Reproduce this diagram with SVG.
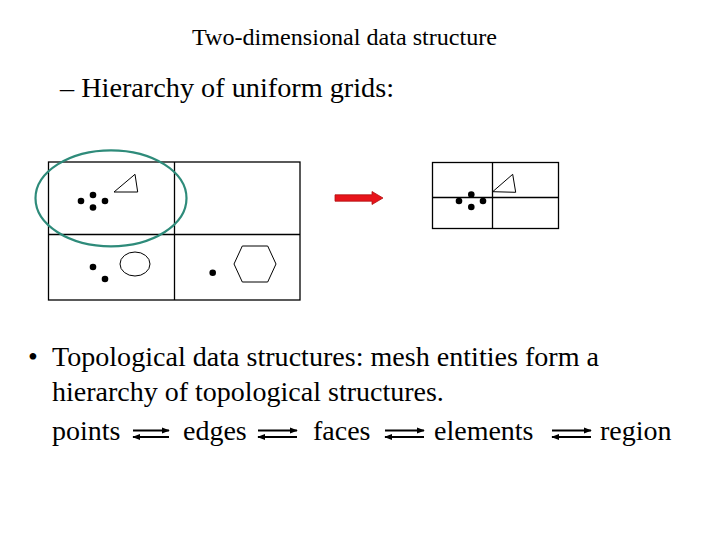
<svg xmlns="http://www.w3.org/2000/svg" width="720" height="540" viewBox="0 0 720 540">
<defs>
<style>
text{font-family:"Liberation Serif","Times New Roman",serif;fill:#000}
.t{font-size:24px}
.b{font-size:28px}
.grid{fill:none;stroke:#000;stroke-width:1.3}
.shape{fill:none;stroke:#000;stroke-width:1}
.dot{fill:#000}
.dbl{stroke:#000;stroke-width:2;fill:none}
</style>
<marker id="ah" viewBox="0 0 10 10" refX="9" refY="5" markerWidth="4" markerHeight="4" orient="auto-start-reverse" markerUnits="strokeWidth">
<path d="M0,1 L10,5 L0,9 z" fill="#000"/>
</marker>
</defs>
<rect width="720" height="540" fill="#fff"/>
<text class="t" x="192" y="45" textLength="305" lengthAdjust="spacingAndGlyphs">Two-dimensional data structure</text>
<text class="b" x="60" y="97" textLength="334" lengthAdjust="spacingAndGlyphs">– Hierarchy of uniform grids:</text>

<g id="grid1">
<rect class="grid" x="48.5" y="162" width="251.5" height="138"/>
<line class="grid" x1="174.5" y1="162" x2="174.5" y2="300"/>
<line class="grid" x1="48.5" y1="234.5" x2="300" y2="234.5"/>
<circle class="dot" cx="81" cy="201" r="3.3"/>
<circle class="dot" cx="93" cy="195" r="3.3"/>
<circle class="dot" cx="93" cy="207.5" r="3.3"/>
<circle class="dot" cx="105" cy="201" r="3.3"/>
<polygon class="shape" points="135,174.3 114,192 137.7,192"/>
<circle class="dot" cx="93" cy="267" r="3.3"/>
<circle class="dot" cx="105" cy="279" r="3.3"/>
<ellipse class="shape" cx="135" cy="264" rx="15" ry="12"/>
<circle class="dot" cx="212.7" cy="272.7" r="3.3"/>
<polygon class="shape" points="242.3,246 267.7,246 276,264 267.7,282 242.3,282 234,264"/>
</g>

<g id="highlight">
<ellipse cx="111" cy="198.3" rx="75.5" ry="48" fill="none" stroke="#2e8b7a" stroke-width="2.2"/>
</g>

<g id="grid2">
<rect class="grid" x="432.5" y="162.5" width="126" height="66"/>
<line class="grid" x1="492.5" y1="162.5" x2="492.5" y2="228.5"/>
<line class="grid" x1="432.5" y1="197.5" x2="558.5" y2="197.5"/>
<circle class="dot" cx="471.3" cy="194.5" r="3.3"/>
<circle class="dot" cx="459" cy="201" r="3.3"/>
<circle class="dot" cx="483" cy="201" r="3.3"/>
<circle class="dot" cx="471.3" cy="207" r="3.3"/>
<polygon class="shape" points="512.7,174.3 492.7,191.7 515.7,192.3"/>
</g>

<g id="connectors">
<polygon points="335,194.8 372,194.8 372,191.5 383,198 372,204.5 372,201.2 335,201.2" fill="#e8141b" stroke="#b01010" stroke-width="0.8"/>
<g class="dbl">
<line x1="133" y1="430.5" x2="169" y2="430.5" marker-end="url(#ah)"/>
<line x1="169" y1="437" x2="133" y2="437" marker-end="url(#ah)"/>
<line x1="258" y1="430.5" x2="297" y2="430.5" marker-end="url(#ah)"/>
<line x1="297" y1="437" x2="258" y2="437" marker-end="url(#ah)"/>
<line x1="385" y1="430.5" x2="424" y2="430.5" marker-end="url(#ah)"/>
<line x1="424" y1="437" x2="385" y2="437" marker-end="url(#ah)"/>
<line x1="552" y1="430.5" x2="591" y2="430.5" marker-end="url(#ah)"/>
<line x1="591" y1="437" x2="552" y2="437" marker-end="url(#ah)"/>
</g>
</g>

<text class="b" x="28" y="366">•</text>
<text class="b" x="52" y="366" textLength="547" lengthAdjust="spacingAndGlyphs">Topological data structures: mesh entities form a</text>
<text class="b" x="52" y="401">hierarchy of topological structures.</text>
<text class="b" x="52" y="440">points</text>
<text class="b" x="183" y="440">edges</text>
<text class="b" x="313" y="440">faces</text>
<text class="b" x="434" y="440">elements</text>
<text class="b" x="600" y="440">region</text>
</svg>
